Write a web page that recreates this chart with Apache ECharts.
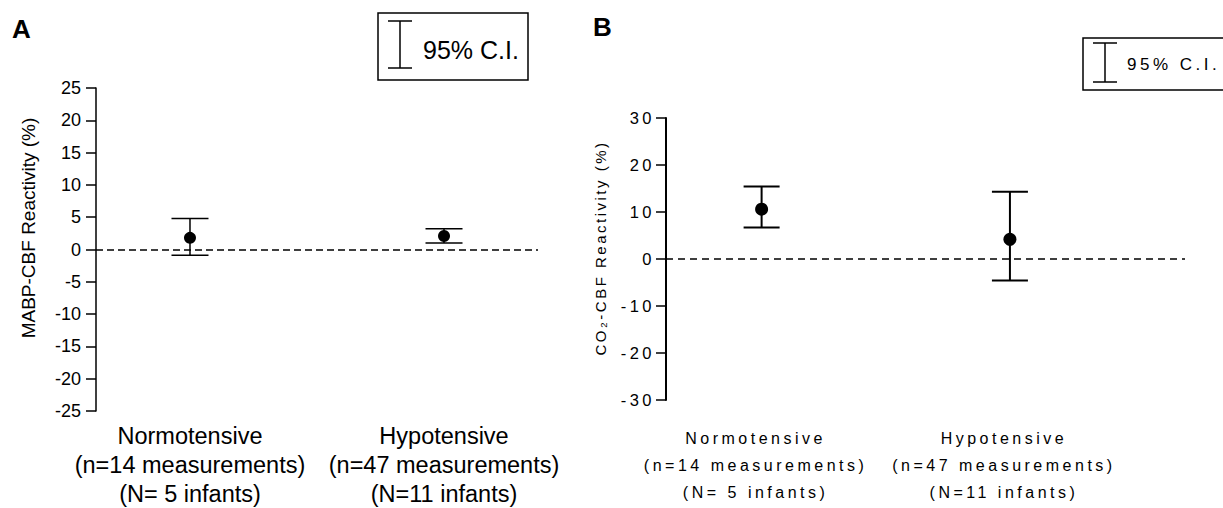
<!DOCTYPE html>
<html>
<head>
<meta charset="utf-8">
<script src="https://cdn.jsdelivr.net/npm/echarts@6/dist/echarts.min.js"></script>
<style>
  html, body { margin: 0; padding: 0; background: #fff; }
  #chartA { position: absolute; left: 0; top: 0; width: 585px; height: 508px; }
  #chartB { position: absolute; left: 585px; top: 0; width: 638px; height: 508px; letter-spacing: 3.5px; }
  /* the rotated axis title in panel B is tracked less than the rest */
  #chartB text[style*="15px"] { letter-spacing: 2.5px; }
</style>
</head>
<body>
<div id="chartA"></div>
<div id="chartB"></div>
<script>
// groups and their x positions
var categories = ['Normotensive', 'Hypotensive'];
var measurements = ['(n=14 measurements)', '(n=47 measurements)'];
var infants = ['(N= 5 infants)', '(N=11 infants)'];
var positions = [1, 2];

// panel A: MABP-CBF reactivity, mean and 95% C.I.
var meanA = [1.8, 2.1];
var lowA = [-0.9, 1.0];
var highA = [4.8, 3.2];

// panel B: CO2-CBF reactivity, mean and 95% C.I.
var meanB = [10.6, 4.2];
var lowB = [6.7, -4.6];
var highB = [15.4, 14.3];

var FONT = '"Liberation Sans", Arial, Helvetica, sans-serif';

function errorBars(low, high, capHalf, width) {
    return {
        type: 'custom',
        z: 2,
        silent: true,
        encode: { x: 0, y: [1, 2] },
        data: positions.map(function (x, i) { return [x, low[i], high[i]]; }),
        renderItem: function (params, api) {
            var x = api.value(0);
            var lo = api.coord([x, api.value(1)]);
            var hi = api.coord([x, api.value(2)]);
            var st = { stroke: '#000', lineWidth: width };
            return {
                type: 'group',
                children: [
                    { type: 'line', shape: { x1: lo[0], y1: lo[1], x2: hi[0], y2: hi[1] }, style: st },
                    { type: 'line', shape: { x1: hi[0] - capHalf, y1: hi[1], x2: hi[0] + capHalf, y2: hi[1] }, style: st },
                    { type: 'line', shape: { x1: lo[0] - capHalf, y1: lo[1], x2: lo[0] + capHalf, y2: lo[1] }, style: st }
                ]
            };
        }
    };
}

function means(mean, size, dash) {
    return {
        type: 'scatter',
        z: 3,
        symbolSize: size,
        itemStyle: { color: '#000', opacity: 1 },
        data: positions.map(function (x, i) { return [x, mean[i]]; }),
        markLine: {
            silent: true,
            symbol: 'none',
            label: { show: false },
            lineStyle: { type: dash, color: '#000', width: 1.5 },
            data: [{ yAxis: 0 }]
        }
    };
}

function legendBox(x, y, w, h, barX, barTop, barBottom, textX, textY, fontSize) {
    var st = { stroke: '#000', lineWidth: 1.5 };
    return [
        { type: 'rect', shape: { x: x, y: y, width: w, height: h }, style: { fill: 'none', stroke: '#000', lineWidth: 1.5 } },
        { type: 'line', shape: { x1: barX, y1: barTop, x2: barX, y2: barBottom }, style: st },
        { type: 'line', shape: { x1: barX - 12, y1: barTop, x2: barX + 12, y2: barTop }, style: st },
        { type: 'line', shape: { x1: barX - 12, y1: barBottom, x2: barX + 12, y2: barBottom }, style: st },
        { type: 'text', x: textX, y: textY, style: { text: '95% C.I.', font: fontSize + 'px ' + FONT, fill: '#000',
            textAlign: 'left', align: 'left', textVerticalAlign: 'middle', verticalAlign: 'middle' } }
    ];
}

function catLabel(v) {
    var i = positions.indexOf(v);
    return i < 0 ? '' : categories[i] + '\n' + measurements[i] + '\n' + infants[i];
}

var chartA = echarts.init(document.getElementById('chartA'), null, { renderer: 'svg' });
chartA.setOption({
    animation: false,
    backgroundColor: '#fff',
    grid: { left: 96, top: 88, width: 442, height: 324 },
    xAxis: {
        type: 'value', min: 0.63, max: 2.37,
        axisLine: { show: false, onZero: false },
        axisTick: { show: false },
        splitLine: { show: false },
        axisLabel: {
            customValues: positions, formatter: catLabel,
            color: '#000', fontSize: 23.5, fontFamily: FONT, lineHeight: 29,
            margin: 10
        }
    },
    yAxis: {
        type: 'value', min: -25, max: 25, interval: 5,
        axisLine: { show: true, lineStyle: { color: '#000', width: 1.5 } },
        axisTick: { show: true, length: 10, lineStyle: { color: '#000', width: 1.5 } },
        splitLine: { show: false },
        axisLabel: { color: '#000', fontSize: 18, fontFamily: FONT, margin: 15 }
    },
    graphic: [
        { type: 'text', x: 12, y: 16, style: { text: 'A', font: 'bold 26px ' + FONT, fill: '#000' } },
        { type: 'text', x: 28, y: 228, rotation: Math.PI / 2,
          style: { text: 'MABP-CBF Reactivity (%)', font: '19px ' + FONT, fill: '#000',
                   textAlign: 'center', align: 'center', textVerticalAlign: 'middle', verticalAlign: 'middle' } }
    ].concat(legendBox(378, 13, 150, 67, 400, 21, 68, 423, 50, 25)),
    series: [errorBars(lowA, highA, 18.5, 1.5), means(meanA, 12, [7, 4])]
});

var chartB = echarts.init(document.getElementById('chartB'), null, { renderer: 'svg' });
chartB.setOption({
    animation: false,
    backgroundColor: '#fff',
    grid: { left: 81, top: 118, width: 519, height: 282 },
    xAxis: {
        type: 'value', min: 0.615, max: 2.705,
        axisLine: { show: false, onZero: false },
        axisTick: { show: false },
        splitLine: { show: false },
        axisLabel: {
            customValues: positions, formatter: catLabel,
            color: '#000', fontSize: 16, fontFamily: FONT, lineHeight: 27,
            margin: 25, padding: [0, 12, 0, 0]
        }
    },
    yAxis: {
        type: 'value', min: -30, max: 30, interval: 10,
        axisLine: { show: true, lineStyle: { color: '#000', width: 2 } },
        axisTick: { show: true, length: 10, lineStyle: { color: '#000', width: 1.5 } },
        splitLine: { show: false },
        axisLabel: { color: '#000', fontSize: 16.5, fontFamily: FONT, margin: 11 }
    },
    graphic: [
        { type: 'text', x: 8, y: 14, style: { text: 'B', font: 'bold 26px ' + FONT, fill: '#000' } },
        { type: 'text', x: 15, y: 248, rotation: Math.PI / 2,
          style: { text: 'CO₂-CBF Reactivity (%)', font: '15px ' + FONT, fill: '#000',
                   textAlign: 'center', align: 'center', textVerticalAlign: 'middle', verticalAlign: 'middle' } }
    ].concat(legendBox(498, 38, 160, 52, 520, 43, 82, 542, 64, 17)),
    series: [errorBars(lowB, highB, 18, 2), means(meanB, 13, [7, 5])]
});
</script>
</body>
</html>
